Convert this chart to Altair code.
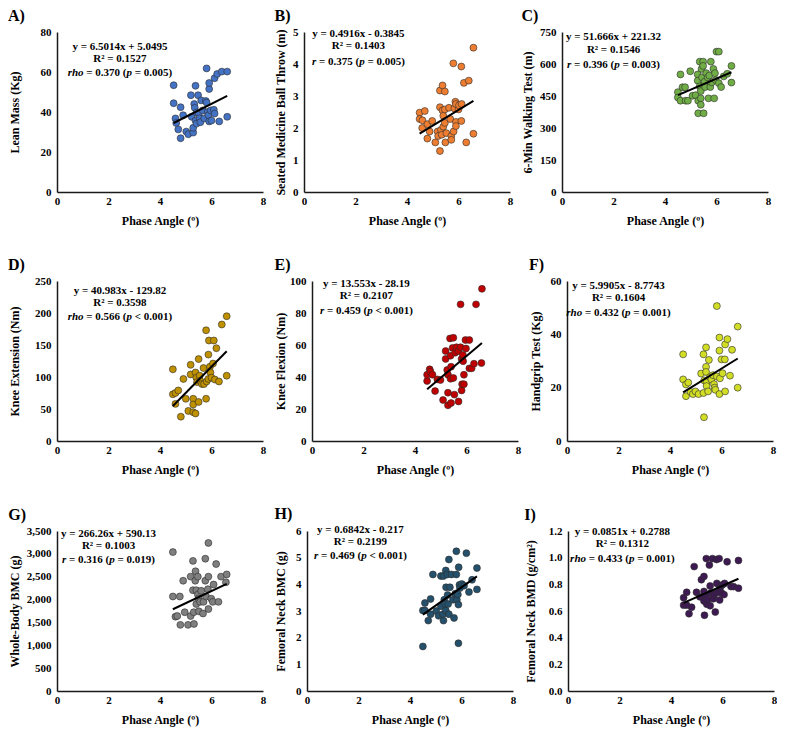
import altair as alt
import pandas as pd

# ---------------- data ----------------
a_x = [4.53,4.53,4.60,4.63,4.71,4.80,4.80,4.90,5.02,5.10,5.20,5.23,5.29,5.29,5.33,5.35,5.38,5.42,5.38,5.42,5.48,5.51,5.54,5.57,5.60,5.66,5.72,5.78,5.81,5.81,5.85,5.88,5.91,5.91,5.91,5.97,6.00,6.09,6.12,6.12,6.22,6.30,6.40,6.61,6.61]
a_y = [53.4,44.4,36.8,34.5,31.3,26.9,42.4,38.4,30.2,28.9,48.4,37.6,29.7,32.1,44.0,42.1,53.1,39.7,35.7,34.2,48.4,39.2,36.8,34.9,45.8,40.8,36.8,45.5,61.8,44.7,40.0,38.4,51.5,54.5,35.3,40.8,35.7,41.1,39.2,56.9,59.0,35.3,60.2,60.2,37.6]

b_x = [4.49,4.49,4.60,4.59,4.69,4.79,4.79,4.88,4.98,5.10,5.19,5.21,5.28,5.28,5.28,5.32,5.35,5.38,5.38,5.41,5.41,5.47,5.47,5.47,5.49,5.53,5.63,5.68,5.72,5.72,5.80,5.81,5.84,5.88,5.90,5.90,5.90,6.00,6.02,6.11,6.11,6.12,6.21,6.30,6.40,6.58,6.58]
b_y = [2.48,2.28,2.24,2.00,2.53,2.12,1.67,1.89,2.22,1.55,1.89,1.75,3.17,2.65,1.28,1.94,1.79,3.33,2.55,2.38,2.04,3.14,2.58,2.16,1.55,1.84,2.63,2.28,1.75,1.63,4.02,1.89,2.61,2.82,2.75,2.19,2.06,2.58,2.71,3.92,2.22,2.75,3.41,1.55,3.48,4.51,1.82]

c_x = [4.50,4.50,4.60,4.60,4.68,4.78,4.80,4.89,4.98,5.07,5.19,5.27,5.27,5.29,5.29,5.35,5.35,5.39,5.39,5.39,5.42,5.44,5.48,5.48,5.50,5.54,5.56,5.60,5.66,5.69,5.72,5.76,5.78,5.82,5.88,5.91,5.94,5.97,6.00,6.09,6.09,6.18,6.28,6.42,6.58,6.58]
c_y = [468,443,428,551,491,491,428,428,566,451,454,551,522,428,369,611,495,439,409,473,577,537,611,591,369,517,492,557,537,439,546,492,611,514,577,439,557,525,658,658,510,492,542,554,591,513]

d_x = [4.50,4.50,4.60,4.60,4.71,4.81,4.91,5.00,5.10,5.19,5.19,5.29,5.29,5.29,5.38,5.38,5.41,5.44,5.50,5.50,5.54,5.56,5.63,5.69,5.71,5.79,5.79,5.81,5.88,5.88,5.90,5.94,5.96,6.00,6.06,6.09,6.13,6.19,6.29,6.40,6.59,6.59]
d_y = [112,73,75,58,79,38,97,66,47,119,104,66,57,45,43,107,99,92,61,128,102,94,89,114,89,173,66,93,135,97,157,116,107,99,121,157,96,145,93,182,102,195]

e_x = [4.47,4.47,4.57,4.60,4.68,4.78,4.87,4.99,5.09,5.19,5.19,5.25,5.28,5.28,5.28,5.36,5.38,5.38,5.40,5.40,5.46,5.49,5.49,5.53,5.56,5.61,5.69,5.69,5.77,5.77,5.81,5.81,5.83,5.86,5.87,5.90,5.90,5.96,5.98,6.11,6.11,6.20,6.29,6.37,6.58,6.60]
e_y = [37.5,41.4,44.8,43.4,41.4,31.2,38.5,38.1,25.6,56.2,51.3,44.4,41.4,30.2,22.3,64.1,53.3,38.9,46.4,23.7,58.2,64.5,39.4,29.0,55.2,58.6,56.2,24.7,85.4,58.6,51.3,31.6,35.5,53.8,49.9,41.4,35.5,63.1,57.8,63.1,45.4,45.4,48.3,85.4,48.7,95.1]

f_x = [4.51,4.51,4.62,4.62,4.71,4.80,4.89,4.99,5.11,5.21,5.30,5.30,5.32,5.33,5.40,5.40,5.40,5.42,5.42,5.48,5.51,5.55,5.61,5.67,5.71,5.73,5.76,5.82,5.82,5.92,5.92,5.92,5.94,6.00,6.04,6.13,6.14,6.14,6.23,6.33,6.41,6.63,6.63]
f_y = [32.5,23.1,21.2,16.8,21.9,18.4,17.6,18.6,17.6,25.3,32.5,18.0,8.9,22.7,35.1,27.8,25.9,22.1,20.6,18.6,30.4,23.9,23.1,24.7,21.3,20.0,19.2,50.6,24.2,38.8,33.9,17.6,23.5,30.6,25.4,30.6,36.2,18.6,38.2,24.5,34.2,42.9,20.0]

g_x = [4.50,4.50,4.60,4.67,4.77,4.79,4.90,4.96,5.09,5.19,5.19,5.28,5.28,5.31,5.32,5.37,5.38,5.41,5.41,5.47,5.47,5.50,5.51,5.56,5.60,5.67,5.69,5.76,5.76,5.79,5.86,5.88,5.88,5.88,5.99,6.05,6.08,6.18,6.27,6.37,6.56,6.59]
g_y = [2067,3039,1626,1640,2067,1447,2412,1723,1447,2502,1640,2846,2205,1723,1467,2412,2619,1902,2205,2502,2109,2020,1743,1950,2191,1695,1950,2412,2894,2067,2226,2502,3239,1792,2020,1950,2329,2777,1950,2502,2378,2550]

h_x = [4.50,4.50,4.58,4.58,4.71,4.80,4.80,4.89,5.02,5.11,5.20,5.20,5.28,5.30,5.30,5.33,5.36,5.39,5.39,5.40,5.45,5.46,5.48,5.51,5.51,5.55,5.61,5.67,5.71,5.76,5.80,5.80,5.82,5.86,5.88,5.88,5.89,5.92,5.94,6.01,6.10,6.19,6.29,6.41,6.60,6.60]
h_y = [3.02,1.67,3.30,3.02,2.64,3.45,2.88,4.37,3.00,2.82,4.31,3.18,2.88,2.64,4.31,3.42,3.26,4.52,3.02,3.89,4.37,3.60,3.26,4.93,2.88,3.89,4.37,3.42,2.74,3.65,5.24,4.37,3.42,3.62,1.79,3.24,4.64,3.98,3.86,4.01,3.95,5.17,3.71,4.17,4.61,3.81]

i_x = [4.49,4.49,4.61,4.61,4.70,4.80,4.90,4.99,5.12,5.18,5.28,5.28,5.28,5.30,5.34,5.37,5.39,5.43,5.49,5.52,5.52,5.55,5.61,5.65,5.68,5.72,5.77,5.78,5.80,5.87,5.89,5.90,5.96,5.99,6.06,6.08,6.18,6.33,6.43,6.62,6.62]
i_y = [0.699,0.644,0.740,0.644,0.580,0.628,0.933,0.740,0.706,0.835,0.859,0.747,0.675,0.568,0.711,0.993,0.651,0.687,0.945,0.788,0.640,0.735,0.993,0.692,0.723,0.592,0.986,0.807,0.740,0.993,0.683,0.771,0.735,0.795,0.723,0.807,0.969,0.783,0.783,0.979,0.771]

panel_letters = ["A)", "B)", "C)", "D)", "E)", "F)", "G)", "H)", "I)"]
y_titles = ["Lean Mass (Kg)", "Seated Medicine Ball Throw (m)", "6-Min Walking Test  (m)",
            "Knee Extension (Nm)", "Knee Flexion (Nm)", "Handgrip Test (Kg)",
            "Whole-Body BMC (g)", "Femoral Neck BMC (g)", "Femoral Neck BMD (g/cm²)"]
y_max = [80, 5, 750, 250, 100, 60, 3500, 6, 1.2]
y_step = [20, 1, 150, 50, 20, 20, 500, 1, 0.2]
y_formats = ["d", "d", "d", "d", "d", "d", ",d", "d", ".1f"]
x_ticks = [0, 2, 4, 6, 8]
x_title = "Phase Angle (º)"

eq_text = ["y = 6.5014x + 5.0495", "y = 0.4916x - 0.3845", "y = 51.666x + 221.32",
           "y = 40.983x - 129.82", "y = 13.553x - 28.19", "y = 5.9905x - 8.7743",
           "y = 266.26x + 590.13", "y = 0.6842x - 0.217", "y = 0.0851x + 0.2788"]
slopes = [6.5014, 0.4916, 51.666, 40.983, 13.553, 5.9905, 266.26, 0.6842, 0.0851]
intercepts = [5.0495, -0.3845, 221.32, -129.82, -28.19, -8.7743, 590.13, -0.217, 0.2788]
r2_text = ["0.1527", "0.1403", "0.1546", "0.3598", "0.2107", "0.1604", "0.1003", "0.2199", "0.1312"]
coef_name = ["rho", "r", "r", "rho", "r", "rho", "r", "r", "rho"]
coef_val = ["0.370", "0.375", "0.396", "0.566", "0.459", "0.432", "0.316", "0.469", "0.433"]
p_op = ["=", "=", "=", "<", "<", "=", "=", "<", "="]
p_val = ["0.005", "0.005", "0.003", "0.001", "0.001", "0.001", "0.019", "0.001", "0.001"]

colors = ["#4472C4", "#ED7D31", "#70AD47", "#BF9000", "#C00000", "#D2DE26", "#7F7F7F", "#24506B", "#3D1A52"]

xs = [a_x, b_x, c_x, d_x, e_x, f_x, g_x, h_x, i_x]
ys = [a_y, b_y, c_y, d_y, e_y, f_y, g_y, h_y, i_y]

# ---------------- layout ----------------
W, H = 206, 160
FONT = "Liberation Serif"
EQ_FS = 11
# centre x, and y of the three equation lines, relative to plot area (pixels)
eq_pos = [(66, 15, 27, 41), (57, 2, 14, 30), (54, 5, 18, 33),
          (66, 10, 22, 36), (57, 3, 15, 30), (54, 5, 17, 32),
          (54, 3, 15, 29), (56, -1, 11, 25), (57, 1, 13, 28)]
y_title_pad = [19, 5, 5, 13.5, 2, 8, 5, 8, 11]

BOLD_W = {" ": 0.25, "=": 0.57, "<": 0.57, ".": 0.25, "(": 0.333, ")": 0.333}
ITAL_W = {"r": 0.389, "h": 0.556, "o": 0.5, "p": 0.5}


def text_width(s, italic):
    tot = 0.0
    for ch in s:
        if italic:
            tot += ITAL_W.get(ch, 0.5)
        else:
            tot += BOLD_W.get(ch, 0.5)
    return tot * EQ_FS


one = pd.DataFrame({"k": [0]})


def txt(s, px, py, align="center", italic=False):
    return alt.Chart(one).mark_text(
        text=s, font=FONT, fontSize=EQ_FS, fontWeight="bold",
        fontStyle="italic" if italic else "normal",
        align=align, baseline="middle", color="black"
    ).encode(x=alt.value(px), y=alt.value(py))


def panel(i):
    df = pd.DataFrame({"x": xs[i], "y": ys[i]})
    n_ticks = int(round(y_max[i] / y_step[i]))
    yvals = [round(k * y_step[i], 4) for k in range(n_ticks + 1)]
    xenc = alt.X("x:Q", scale=alt.Scale(domain=[0, 8], nice=False),
                 axis=alt.Axis(values=x_ticks, title=x_title, format="d"))
    yenc = alt.Y("y:Q", scale=alt.Scale(domain=[0, y_max[i]], nice=False),
                 axis=alt.Axis(values=yvals, title=y_titles[i], format=y_formats[i],
                               titlePadding=y_title_pad[i]))
    pts = alt.Chart(df).mark_circle(
        size=48, color=colors[i], opacity=1, stroke="#2b2b2b", strokeWidth=0.6
    ).encode(x=xenc, y=yenc)
    ldf = pd.DataFrame({"x": [min(xs[i]), max(xs[i])]})
    line = alt.Chart(ldf).transform_calculate(
        y=f"{slopes[i]} * datum.x + ({intercepts[i]})"
    ).mark_line(color="black", strokeWidth=2).encode(x=xenc, y=yenc)

    sx = W / 216.0
    cx, y1, y2, y3 = eq_pos[i]
    cx = cx * sx
    layers = [pts, line,
              txt(eq_text[i], cx, y1),
              txt(f"R² = {r2_text[i]}", cx, y2)]
    pieces = [(coef_name[i], True), (f" = {coef_val[i]} (", False),
              ("p", True), (f" {p_op[i]} {p_val[i]})", False)]
    total = sum(text_width(s, it) for s, it in pieces)
    x0 = cx - total / 2
    for s, it in pieces:
        lead = len(s) - len(s.lstrip(" "))
        layers.append(txt(s.strip(" "), x0 + text_width(" " * lead, it), y3,
                          align="left", italic=it))
        x0 += text_width(s, it)

    return alt.layer(*layers).properties(
        width=W, height=H,
        title=alt.TitleParams(panel_letters[i], anchor="start", frame="bounds",
                              font=FONT, fontSize=16, fontWeight="bold",
                              color="black", offset=2)
    )


rows = [alt.hconcat(*[panel(3 * r + c) for c in range(3)], spacing=8) for r in range(3)]

chart = alt.vconcat(*rows, spacing=31).properties(
    padding={"top": 0, "left": 0, "right": 0, "bottom": 8}, background="white"
).configure_view(stroke=None).configure_axis(
    grid=False, ticks=False, tickSize=0, domainColor="#1a1a1a", domainWidth=1.5,
    labelFont=FONT, labelFontSize=11, labelFontWeight="bold", labelColor="black",
    titleFont=FONT, titleFontSize=12, titleFontWeight="bold", titleColor="black",
    labelFlush=False, labelOverlap=False
).configure_axisX(
    labelPadding=3, titlePadding=9
).configure_axisY(
    labelPadding=6
)

chart.save("out.html", embed_options={"renderer": "svg", "actions": False})
